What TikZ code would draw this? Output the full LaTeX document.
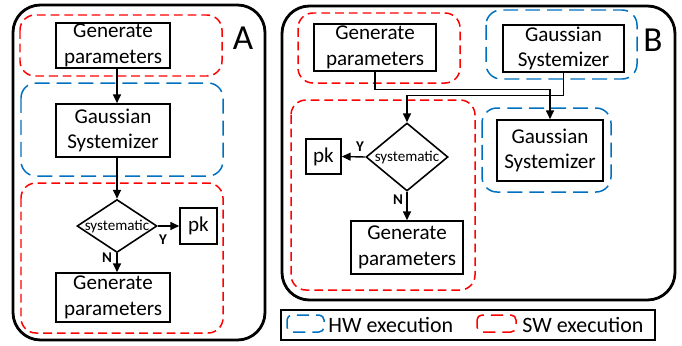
\documentclass[tikz,border=0pt]{standalone}
\usepackage{fontspec}
\setmainfont{Carlito}
\usetikzlibrary{arrows.meta,shapes.geometric}

\definecolor{hwblue}{RGB}{0,112,192}
\definecolor{swred}{RGB}{255,0,0}

\tikzset{
  blk/.style={draw, line width=0.9pt, align=center, inner sep=0pt,
    font=\fontsize{12}{14.6}\selectfont},
  dec/.style={draw, diamond, line width=0.9pt, inner sep=0pt,
    font=\fontsize{8.6}{10}\selectfont},
  flow/.style={line width=0.8pt, -{Triangle[length=5pt,width=4.5pt]}},
  yn/.style={font=\fontsize{8.5}{9}\selectfont\bfseries, inner sep=0pt},
  panel/.style={line width=1.6pt, rounded corners=0.55cm},
  hwgrp/.style={hwblue, line width=0.85pt, dash pattern=on 8.5pt off 4pt, rounded corners=0.3cm},
  swgrp/.style={swred, line width=0.85pt, dash pattern=on 5pt off 2.8pt, rounded corners=0.3cm},
}

\begin{document}
\begin{tikzpicture}[x=0.02cm, y=-0.02cm]
\useasboundingbox (0,0) rectangle (682,345);

% panels
\draw[panel] (13,5) rectangle (265,340);
\draw[panel] (282,6) rectangle (675,300);
\node[font=\fontsize{20}{22}\selectfont] (labA) at (243,38) {A};
\node[font=\fontsize{20}{22}\selectfont] (labB) at (653,40) {B};

% execution groups
\draw[swgrp] (20,15) rectangle (222,76);
\draw[hwgrp] (21,83) rectangle (223,176);
\draw[swgrp] (21,183) rectangle (223,333);
\draw[swgrp] (298,13) rectangle (460,83);
\draw[hwgrp] (486,10) rectangle (637,79);
\draw[swgrp] (291,100) rectangle (475,290);
\draw[hwgrp] (482,108) rectangle (611,192);

% sequential flow
\node[blk, minimum width=2.28cm, minimum height=0.9cm] (gpA1) at (113,45.5) {Generate\\parameters};
\node[blk, minimum width=2.28cm, minimum height=1.06cm] (gsA) at (113,130.5) {Gaussian\\Systemizer};
\node[dec, minimum width=1.6cm, minimum height=1.06cm] (dA) at (117,226) {\makebox[0pt]{systematic}};
\node[blk, minimum width=0.74cm, minimum height=0.72cm] (pkA) at (198.5,226) {pk};
\node[blk, minimum width=2.28cm, minimum height=0.98cm] (gpA2) at (113,297.5) {Generate\\parameters};

\draw[flow] (gpA1.south -| dA) -- (gsA.north -| dA);
\draw[flow] (gsA.south -| dA) -- (dA.north);
\draw[flow] (dA.east) -- (pkA.west);
\draw[flow] (dA.south) -- (gpA2.north -| dA);
\node[yn] (yA) at (163,240) {Y};
\node[yn] (nA) at (107,258) {N};

% parallel flow
\node[blk, minimum width=2.44cm, minimum height=0.94cm] (gpB1) at (375,47.5) {Generate\\parameters};
\node[blk, minimum width=2.42cm, minimum height=0.94cm] (gsB1) at (563.5,48.5) {Gaussian\\Systemizer};
\node[blk, minimum width=2.12cm, minimum height=1.22cm] (gsB2) at (550,150.5) {Gaussian\\Systemizer};
\node[dec, minimum width=1.64cm, minimum height=1.36cm] (dB) at (407,157) {\makebox[0pt]{systematic}};
\node[blk, minimum width=0.7cm, minimum height=0.7cm] (pkB) at (323.5,156.5) {pk};
\node[blk, minimum width=2.24cm, minimum height=1.06cm] (gpB2) at (407,247.5) {Generate\\parameters};

\draw[flow] (gpB1.south) -- ++(0,18) -| (gsB2.north);
\draw[flow] (gsB1.south) -- ++(0,23) -| (dB.north);
\draw[flow] (dB.west) -- (pkB.east);
\draw[flow] (dB.south) -- (gpB2.north);
\node[yn] (yB) at (360,147) {Y};
\node[yn] (nB) at (398,200) {N};

% legend
\draw[line width=1pt] (281,310) rectangle (655,340);
\draw[hwgrp, rounded corners=0.1cm, dash pattern=on 7pt off 4pt, dash phase=2pt] (287,315) rectangle (324,332);
\draw[swgrp, rounded corners=0.1cm, dash pattern=on 7pt off 4pt, dash phase=2pt] (477,315) rectangle (516,332);
\node[anchor=west, inner sep=0pt, font=\fontsize{12.5}{14}\selectfont] (hwtxt) at (328,325) {HW execution};
\node[anchor=west, inner sep=0pt, font=\fontsize{12.5}{14}\selectfont] (swtxt) at (522,325) {SW execution};

\end{tikzpicture}
\end{document}
